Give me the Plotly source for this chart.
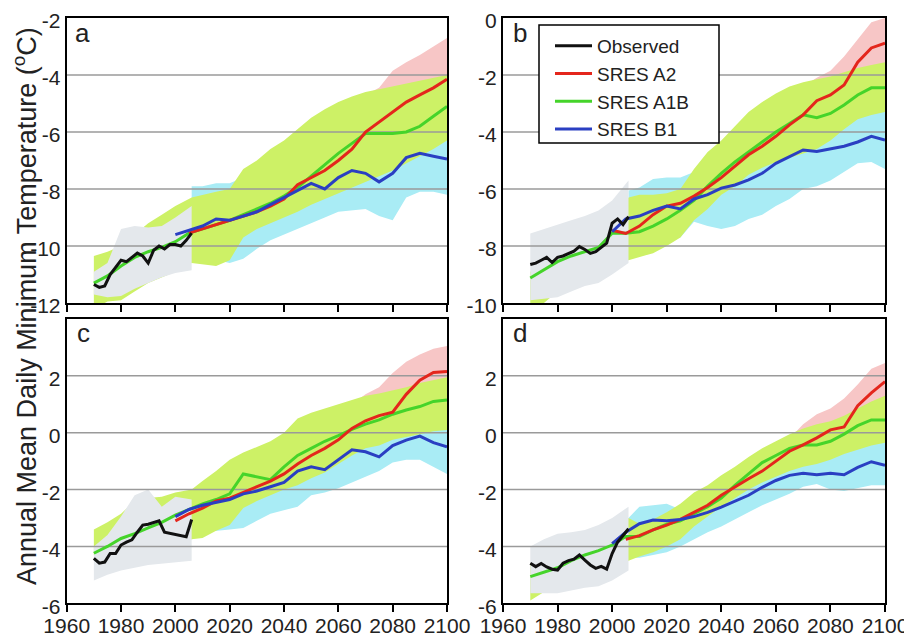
import plotly.graph_objects as go

# ---------------- year grids ----------------
OBS_YEARS = list(range(1970, 2007, 2))
A1B_YEARS = list(range(1970, 2101, 5))
PROJ_YEARS_2000 = list(range(2000, 2101, 5))
PROJ_YEARS_2005 = list(range(2005, 2101, 5))
HIST_BAND_YEARS = [1970, 1975, 1980, 1985, 1990, 1995, 2000, 2006]
FUT_BAND_YEARS = [2006] + list(range(2010, 2101, 5))
GREEN_BAND_YEARS = [1970, 1975, 1980, 1985, 1990, 1995, 2000] + FUT_BAND_YEARS

X_TICKS = [1960, 1980, 2000, 2020, 2040, 2060, 2080, 2100]
A_YTICKS = [-12, -10, -8, -6, -4, -2]
B_YTICKS = [-10, -8, -6, -4, -2, 0]
C_YTICKS = [-6, -4, -2, 0, 2]
D_YTICKS = [-6, -4, -2, 0, 2]
A_GRID = [-10, -8, -6, -4]
B_GRID = [-8, -6, -4, -2]
C_GRID = [-4, -2, 0, 2]
D_GRID = [-4, -2, 0, 2]
A_RANGE = [-12, -2]
B_RANGE = [-10, 0]
C_RANGE = [-6, 4]
D_RANGE = [-6, 4]

# ---------------- panel a ----------------
A_OBS = [-11.35, -11.45, -11.40, -11.00, -10.75, -10.50, -10.55, -10.40, -10.25, -10.35,
         -10.60, -10.15, -10.00, -10.10, -9.95, -9.95, -10.00, -9.80, -9.55]
A_A1B = [-11.30, -11.05, -10.70, -10.40, -10.20, -10.05, -9.85, -9.55, -9.40, -9.25, -9.10,
         -8.90, -8.70, -8.50, -8.25, -7.95, -7.55, -7.15, -6.75, -6.40, -6.05, -6.05, -6.05,
         -6.00, -5.80, -5.45, -5.10]
A_A2 = [-9.55, -9.40, -9.25, -9.10, -8.95, -8.80, -8.60, -8.35, -7.85, -7.60, -7.35, -7.00,
        -6.60, -6.00, -5.65, -5.30, -4.95, -4.70, -4.45, -4.15]
A_B1 = [-9.60, -9.45, -9.30, -9.05, -9.10, -8.95, -8.80, -8.55, -8.30, -8.05, -7.80, -8.00,
        -7.60, -7.35, -7.45, -7.75, -7.45, -6.90, -6.75, -6.85, -6.95]
A_GRAY_HI = [-10.90, -10.60, -9.40, -9.30, -9.35, -9.30, -9.00, -8.60]
A_GRAY_LO = [-11.70, -11.80, -11.75, -11.50, -11.30, -11.10, -10.95, -10.85]
A_GREEN_HI = [-10.35, -10.20, -10.00, -9.60, -9.20, -8.90, -8.60,
              -8.30, -8.20, -8.10, -8.00, -7.30, -7.00, -6.60, -6.30, -5.90, -5.50, -5.20,
              -4.95, -4.75, -4.60, -4.50, -4.40, -4.30, -4.20, -4.10, -4.00]
A_GREEN_LO = [-12.20, -11.95, -11.90, -11.60, -11.30, -11.10, -10.90,
              -10.60, -10.65, -10.70, -10.50, -9.70, -9.40, -9.20, -9.00, -8.80, -8.55, -8.35,
              -8.15, -7.95, -7.75, -7.55, -7.35, -7.10, -6.85, -6.60, -6.30]
A_CYAN_HI = [-7.90, -7.90, -7.80, -7.80, -7.60, -7.30, -7.00, -6.80, -6.50, -6.30, -6.10,
             -6.00, -5.90, -5.80, -5.80, -5.70, -5.60, -5.60, -5.60, -5.60]
A_CYAN_LO = [-10.30, -10.40, -10.50, -10.60, -10.45, -10.10, -9.80, -9.60, -9.40, -9.20, -9.00,
             -8.80, -8.75, -8.70, -8.95, -9.10, -8.30, -8.10, -8.10, -8.20]
A_PINK_HI = [-8.40, -8.30, -8.20, -8.10, -7.50, -7.20, -6.80, -6.50, -6.10, -5.70, -5.40,
             -5.10, -4.90, -4.70, -4.45, -3.85, -3.55, -3.30, -3.00, -2.70]
A_PINK_LO = [-10.20, -10.20, -10.20, -10.00, -9.40, -9.10, -8.90, -8.70, -8.50, -8.20, -8.00,
             -7.70, -7.40, -7.10, -6.90, -6.60, -6.30, -6.10, -5.90, -5.70]

# ---------------- panel b ----------------
B_OBS = [-8.65, -8.60, -8.50, -8.40, -8.58, -8.40, -8.35, -8.26, -8.18, -8.02,
         -8.12, -8.26, -8.20, -8.05, -7.90, -7.20, -7.05, -7.25, -6.97]
B_A1B = [-9.12, -8.85, -8.55, -8.35, -8.20, -8.05, -7.55, -7.55, -7.50, -7.30, -7.05,
         -6.75, -6.40, -5.90, -5.45, -5.05, -4.70, -4.35, -4.00, -3.70, -3.40, -3.50, -3.35,
         -3.05, -2.70, -2.45, -2.45]
B_A2 = [-7.45, -7.56, -7.30, -6.90, -6.60, -6.50, -6.25, -5.95, -5.60, -5.20, -4.80, -4.50,
        -4.15, -3.75, -3.40, -2.90, -2.70, -2.35, -1.55, -1.05, -0.88]
B_B1 = [-7.50, -7.05, -6.95, -6.75, -6.60, -6.70, -6.35, -6.20, -5.97, -5.86, -5.68, -5.45,
        -5.10, -4.85, -4.63, -4.68, -4.60, -4.50, -4.35, -4.15, -4.28]
B_GRAY_HI = [-7.56, -7.40, -7.25, -7.10, -6.95, -6.75, -6.40, -5.70]
B_GRAY_LO = [-9.90, -9.85, -9.80, -9.60, -9.40, -9.30, -9.00, -8.60]
B_GREEN_HI = [-8.90, -8.60, -8.20, -7.80, -7.40, -7.30, -7.00,
              -6.30, -6.20, -6.20, -6.15, -6.00, -5.30, -4.70, -4.30, -3.80, -3.30, -2.95,
              -2.65, -2.40, -2.25, -2.15, -2.05, -1.90, -1.75, -1.65, -1.55]
B_GREEN_LO = [-10.20, -10.00, -9.60, -9.30, -9.00, -8.60, -8.30,
              -8.50, -8.40, -8.25, -8.00, -7.70, -7.10, -6.70, -6.20, -5.90, -5.50, -5.25,
              -5.05, -4.90, -4.75, -4.60, -4.30, -3.90, -3.55, -3.40, -3.30]
B_CYAN_HI = [-6.05, -5.95, -5.65, -5.60, -5.60, -5.40, -5.10, -4.80, -4.50, -4.20, -4.00,
             -3.80, -3.70, -3.60, -3.50, -3.40, -3.40, -3.30, -3.20, -3.10]
B_CYAN_LO = [-8.00, -8.00, -7.90, -7.80, -7.70, -7.15, -7.30, -7.40, -7.30, -7.05, -6.90,
             -6.60, -6.35, -6.00, -5.90, -5.70, -5.40, -5.10, -5.05, -5.30]
B_PINK_HI = [-6.50, -6.40, -6.40, -6.30, -6.20, -5.50, -4.90, -4.50, -4.00, -3.50, -3.15,
             -2.85, -2.60, -2.40, -2.10, -1.85, -1.35, -0.75, -0.15, 0.00]
B_PINK_LO = [-8.00, -7.90, -7.75, -7.50, -7.20, -6.60, -6.20, -5.70, -5.40, -5.00, -4.75,
             -4.55, -4.40, -4.25, -4.10, -3.80, -3.40, -3.05, -2.90, -2.80]

# ---------------- panel c ----------------
C_OBS = [-4.42, -4.59, -4.55, -4.25, -4.25, -3.95, -3.85, -3.77, -3.50, -3.25,
         -3.22, -3.15, -3.10, -3.50, -3.54, -3.56, -3.60, -3.66, -3.05]
C_A1B = [-4.24, -4.00, -3.72, -3.55, -3.35, -3.15, -2.90, -2.70, -2.50, -2.35, -2.15,
         -1.45, -1.55, -1.65, -1.20, -0.80, -0.55, -0.30, -0.10, 0.12, 0.30, 0.45, 0.65,
         0.80, 0.92, 1.10, 1.15]
C_A2 = [-3.10, -2.85, -2.65, -2.40, -2.30, -2.10, -1.90, -1.70, -1.45, -1.10, -0.80, -0.55,
        -0.25, 0.15, 0.42, 0.60, 0.72, 1.35, 1.85, 2.12, 2.15]
C_B1 = [-2.95, -2.70, -2.55, -2.45, -2.35, -2.15, -2.05, -1.90, -1.75, -1.35, -1.20, -1.30,
        -0.95, -0.60, -0.67, -0.85, -0.45, -0.26, -0.12, -0.35, -0.50]
C_GRAY_HI = [-4.00, -3.60, -2.95, -2.20, -2.00, -2.60, -2.25, -2.35]
C_GRAY_LO = [-5.20, -5.00, -4.85, -4.75, -4.65, -4.60, -4.55, -4.50]
C_GREEN_HI = [-3.40, -3.15, -2.85, -2.40, -2.30, -2.25, -2.10,
              -2.00, -1.70, -1.35, -0.95, -0.70, -0.50, -0.30, 0.00, 0.50, 0.70, 0.85,
              1.00, 1.15, 1.30, 1.38, 1.50, 1.60, 1.75, 1.85, 1.95]
C_GREEN_LO = [-4.30, -4.20, -4.10, -4.00, -4.10, -4.20, -4.00,
              -3.75, -3.70, -3.45, -3.25, -2.65, -2.40, -2.20, -2.00, -1.85, -1.60, -1.40,
              -1.10, -0.80, -0.55, -0.45, -0.25, -0.15, -0.05, 0.05, 0.10]
C_CYAN_HI = [-2.50, -2.40, -2.30, -2.20, -2.00, -1.80, -1.60, -1.40, -1.20, -1.00, -0.80,
             -0.60, -0.40, -0.20, -0.10, 0.00, 0.10, 0.20, 0.20, 0.20]
C_CYAN_LO = [-3.50, -3.50, -3.45, -3.40, -3.35, -3.10, -2.85, -2.72, -2.60, -2.20, -2.10,
             -1.95, -1.75, -1.55, -1.35, -1.05, -0.95, -0.95, -1.20, -1.45]
C_PINK_HI = [-2.20, -1.90, -1.55, -1.15, -0.90, -0.70, -0.50, -0.20, 0.30, 0.50, 0.65,
             0.80, 1.00, 1.35, 1.60, 2.10, 2.50, 2.75, 2.95, 3.05]
C_PINK_LO = [-3.25, -3.20, -2.95, -2.75, -2.15, -1.90, -1.70, -1.50, -1.35, -1.10, -0.90,
             -0.60, -0.30, -0.05, 0.05, 0.25, 0.35, 0.45, 0.55, 0.60]

# ---------------- panel d ----------------
D_OBS = [-4.59, -4.71, -4.60, -4.72, -4.80, -4.83, -4.59, -4.50, -4.45, -4.30,
         -4.48, -4.65, -4.77, -4.70, -4.80, -4.25, -3.85, -3.60, -3.38]
D_A1B = [-5.06, -4.90, -4.75, -4.50, -4.30, -4.15, -3.95, -3.65, -3.65, -3.42, -3.22,
         -3.10, -2.85, -2.60, -2.30, -1.85, -1.45, -1.05, -0.80, -0.55, -0.43, -0.43, -0.30,
         -0.05, 0.25, 0.45, 0.45]
D_A2 = [-3.75, -3.62, -3.42, -3.25, -3.05, -2.80, -2.55, -2.20, -1.90, -1.62, -1.35, -1.00,
        -0.65, -0.43, -0.18, 0.10, 0.20, 0.95, 1.40, 1.80]
D_B1 = [-3.90, -3.50, -3.20, -3.07, -3.10, -3.05, -2.95, -2.80, -2.62, -2.40, -2.20, -1.92,
        -1.68, -1.50, -1.43, -1.48, -1.43, -1.48, -1.22, -1.02, -1.15]
D_GRAY_HI = [-4.00, -3.75, -3.55, -3.50, -3.42, -3.25, -3.00, -2.60]
D_GRAY_LO = [-5.65, -5.65, -5.65, -5.55, -5.45, -5.40, -5.20, -4.85]
D_GREEN_HI = [-4.60, -4.40, -4.20, -3.90, -3.60, -3.50, -3.30,
              -3.00, -3.20, -3.05, -2.80, -2.50, -2.10, -1.85, -1.50, -1.20, -0.85, -0.55,
              -0.30, -0.05, 0.15, 0.30, 0.40, 0.60, 0.85, 1.10, 1.30]
D_GREEN_LO = [-5.90, -5.60, -5.40, -5.20, -5.00, -4.80, -4.60,
              -4.50, -4.35, -4.20, -4.00, -3.75, -3.30, -2.95, -2.60, -2.30, -2.00, -1.75,
              -1.55, -1.35, -1.20, -1.10, -0.95, -0.75, -0.60, -0.45, -0.35]
D_CYAN_HI = [-3.00, -2.60, -2.55, -2.50, -2.70, -2.50, -2.20, -1.90, -1.60, -1.30, -1.10,
             -0.90, -0.70, -0.50, -0.40, -0.30, -0.20, -0.10, 0.00, 0.00]
D_CYAN_LO = [-4.40, -4.40, -4.30, -4.20, -4.00, -3.75, -3.50, -3.30, -3.05, -2.80, -2.55,
             -2.35, -2.15, -1.90, -1.80, -2.00, -2.05, -1.95, -1.85, -1.85]
D_PINK_HI = [-3.20, -3.40, -3.25, -3.00, -2.70, -2.30, -2.05, -1.70, -1.40, -1.05, -0.75,
             -0.50, -0.20, 0.30, 0.65, 0.85, 1.20, 1.70, 2.25, 2.45]
D_PINK_LO = [-4.10, -3.95, -3.80, -3.60, -3.35, -2.90, -2.55, -2.20, -1.90, -1.60, -1.35,
             -1.15, -0.95, -0.80, -0.70, -0.55, -0.35, -0.20, -0.05, 0.05]

# ---------------- styling ----------------
FONT = "Arial, Liberation Sans, Helvetica, sans-serif"
COL_OBS = "#111111"
COL_A2 = "#e4261c"
COL_A1B = "#45d42a"
COL_B1 = "#2a3fc2"
FILL_GRAY = "#e4e8ec"
FILL_GREEN = "#cdf166"
FILL_CYAN = "#a9ecf5"
FILL_PINK = "#f7c6c6"
GRID_COL = "#9a9a9a"

PANELS = [
    dict(key="a", xa="x", ya="y", yr=A_RANGE, ticks=A_YTICKS, grid=A_GRID,
         obs=A_OBS, a1b=A_A1B, a2=A_A2, a2y=PROJ_YEARS_2005, b1=A_B1, b1y=PROJ_YEARS_2000,
         ghi=A_GRAY_HI, glo=A_GRAY_LO, gnhi=A_GREEN_HI, gnlo=A_GREEN_LO,
         chi=A_CYAN_HI, clo=A_CYAN_LO, phi=A_PINK_HI, plo=A_PINK_LO),
    dict(key="b", xa="x2", ya="y2", yr=B_RANGE, ticks=B_YTICKS, grid=B_GRID,
         obs=B_OBS, a1b=B_A1B, a2=B_A2, a2y=PROJ_YEARS_2000, b1=B_B1, b1y=PROJ_YEARS_2000,
         ghi=B_GRAY_HI, glo=B_GRAY_LO, gnhi=B_GREEN_HI, gnlo=B_GREEN_LO,
         chi=B_CYAN_HI, clo=B_CYAN_LO, phi=B_PINK_HI, plo=B_PINK_LO),
    dict(key="c", xa="x3", ya="y3", yr=C_RANGE, ticks=C_YTICKS, grid=C_GRID,
         obs=C_OBS, a1b=C_A1B, a2=C_A2, a2y=PROJ_YEARS_2000, b1=C_B1, b1y=PROJ_YEARS_2000,
         ghi=C_GRAY_HI, glo=C_GRAY_LO, gnhi=C_GREEN_HI, gnlo=C_GREEN_LO,
         chi=C_CYAN_HI, clo=C_CYAN_LO, phi=C_PINK_HI, plo=C_PINK_LO),
    dict(key="d", xa="x4", ya="y4", yr=D_RANGE, ticks=D_YTICKS, grid=D_GRID,
         obs=D_OBS, a1b=D_A1B, a2=D_A2, a2y=PROJ_YEARS_2005, b1=D_B1, b1y=PROJ_YEARS_2000,
         ghi=D_GRAY_HI, glo=D_GRAY_LO, gnhi=D_GREEN_HI, gnlo=D_GREEN_LO,
         chi=D_CYAN_HI, clo=D_CYAN_LO, phi=D_PINK_HI, plo=D_PINK_LO),
]

fig = go.Figure()


def band(years, hi, lo, color, xa, ya):
    fig.add_trace(go.Scatter(
        x=list(years) + list(years)[::-1], y=list(hi) + list(lo)[::-1],
        fill="toself", fillcolor=color, line=dict(width=0), mode="lines",
        hoverinfo="skip", showlegend=False, xaxis=xa, yaxis=ya))


def line(years, vals, color, name, xa, ya, show, rank):
    fig.add_trace(go.Scatter(
        x=years, y=vals, mode="lines", line=dict(color=color, width=3),
        name=name, showlegend=show, legendrank=rank, xaxis=xa, yaxis=ya))


for i, p in enumerate(PANELS):
    xa, ya = p["xa"], p["ya"]
    band(FUT_BAND_YEARS, p["phi"], p["plo"], FILL_PINK, xa, ya)
    band(FUT_BAND_YEARS, p["chi"], p["clo"], FILL_CYAN, xa, ya)
    band(GREEN_BAND_YEARS, p["gnhi"], p["gnlo"], FILL_GREEN, xa, ya)
    band(HIST_BAND_YEARS, p["ghi"], p["glo"], FILL_GRAY, xa, ya)
    gx, gy = [], []
    for v in p["grid"]:
        gx += [X_TICKS[0], X_TICKS[-1], None]
        gy += [v, v, None]
    fig.add_trace(go.Scatter(x=gx, y=gy, mode="lines", line=dict(color=GRID_COL, width=1.5),
                             hoverinfo="skip", showlegend=False, xaxis=xa, yaxis=ya))
    show = (i == 0)
    line(A1B_YEARS, p["a1b"], COL_A1B, "SRES A1B", xa, ya, show, 3)
    line(p["a2y"], p["a2"], COL_A2, "SRES A2", xa, ya, show, 2)
    line(p["b1y"], p["b1"], COL_B1, "SRES B1", xa, ya, show, 4)
    line(OBS_YEARS, p["obs"], COL_OBS, "Observed", xa, ya, show, 1)

# The page body adds an 8px margin, so the figure is 8px smaller and all
# reference pixel positions are shifted by that offset.
OFF = 8
W, H = 912 - OFF, 639 - OFF


def px(x):
    return (x - OFF) / W


def py(y):
    return 1 - (y - OFF) / H


XDOM_L = [px(66.7), px(447)]
XDOM_R = [px(503), px(885)]
YDOM_T = [py(303), py(18)]
YDOM_B = [py(603.3), py(319)]

axis_common = dict(showline=True, linecolor="black", linewidth=2, mirror=True,
                   showgrid=False, zeroline=False, automargin=False,
                   ticklabeloverflow="allow")
xcommon = dict(axis_common, range=[X_TICKS[0], X_TICKS[-1]], tickvals=X_TICKS,
               ticktext=[str(t) for t in X_TICKS], ticks="outside", ticklen=7, tickwidth=1.5,
               tickcolor="black", ticklabelstandoff=-5,
               tickfont=dict(size=21, color="#222", family=FONT))

layout = dict(
    width=W, height=H, autosize=False,
    margin=dict(l=0, r=0, t=0, b=0, pad=0, autoexpand=False),
    paper_bgcolor="white", plot_bgcolor="white", font=dict(family=FONT, color="#222"),
    showlegend=True,
    legend=dict(x=px(550), y=py(27), xanchor="left", yanchor="top",
                bgcolor="rgba(0,0,0,0)", borderwidth=0,
                font=dict(size=19, color="#222", family=FONT), tracegroupgap=0,
                itemwidth=37),
    shapes=[dict(type="rect", xref="paper", yref="paper",
                 x0=px(539), x1=px(719), y0=py(143), y1=py(25),
                 line=dict(color="black", width=1.5), fillcolor="white", layer="above")],
)
doms = [(XDOM_L, YDOM_T), (XDOM_R, YDOM_T), (XDOM_L, YDOM_B), (XDOM_R, YDOM_B)]
for i, p in enumerate(PANELS):
    sfx = "" if i == 0 else str(i + 1)
    xd, yd = doms[i]
    layout["xaxis" + sfx] = dict(xcommon, domain=xd, anchor="y" + sfx,
                                 showticklabels=(i >= 2))
    layout["yaxis" + sfx] = dict(axis_common, domain=yd, anchor="x" + sfx, range=p["yr"],
                                 tickvals=p["ticks"], ticktext=[str(t) for t in p["ticks"]],
                                 ticks="", ticklabelshift=3,
                                 tickfont=dict(size=21, color="#222", family=FONT))
fig.update_layout(**layout)

# panel letters
letter_pos = [(73, 16), (511, 16), (75, 316), (511, 316)]
for p, (lx, ly) in zip(PANELS, letter_pos):
    fig.add_annotation(text=p["key"], xref="paper", yref="paper", x=px(lx), y=py(ly),
                       xanchor="left", yanchor="top", showarrow=False,
                       font=dict(size=26, color="#222", family=FONT))

fig.add_annotation(text="Annual Mean Daily Minimum Temperature (<sup>o</sup>C)",
                   xref="paper", yref="paper", x=px(25), y=py(306), textangle=-90,
                   xanchor="center", yanchor="middle", showarrow=False,
                   font=dict(size=27, color="#222", family=FONT))

fig.write_html("out.html")
